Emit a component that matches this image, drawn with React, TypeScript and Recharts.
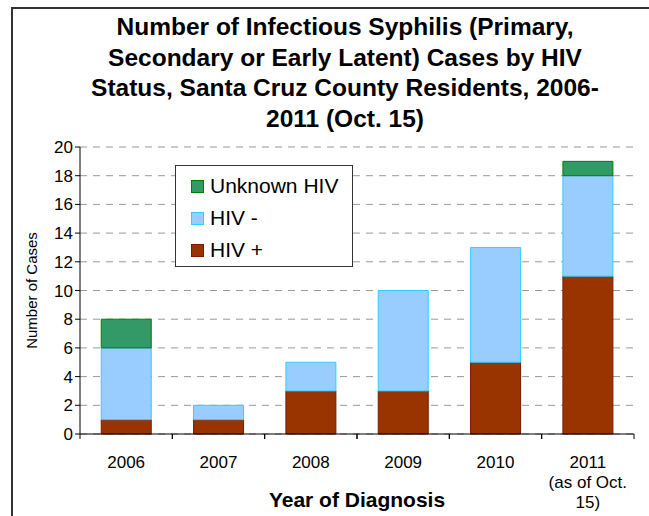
import { BarChart, Bar, XAxis, YAxis, CartesianGrid } from 'recharts';

const YEARS = ['2006', '2007', '2008', '2009', '2010', '2011'];
const HIV_POS = [1, 1, 3, 3, 5, 11];
const HIV_NEG = [5, 1, 2, 7, 8, 7];
const HIV_UNKNOWN = [2, 0, 0, 0, 0, 1];
const Y_TICKS = [0, 2, 4, 6, 8, 10, 12, 14, 16, 18, 20];
const YEAR_LABELS: Record<string, string[]> = {
  '2011': ['2011', '(as of Oct.', '15)'],
};
const TITLE_LINES = [
  'Number of Infectious Syphilis (Primary,',
  'Secondary or Early Latent) Cases by HIV',
  'Status, Santa Cruz County Residents, 2006-',
  '2011 (Oct. 15)',
];

const SERIES = [
  { key: 'pos', name: 'HIV +', fill: '#993300', stroke: '#7a1a00' },
  { key: 'neg', name: 'HIV -', fill: '#99ccff', stroke: '#33ccff' },
  { key: 'unk', name: 'Unknown HIV', fill: '#339966', stroke: '#008000' },
];

const data = YEARS.map((year, i) => ({
  year,
  pos: HIV_POS[i],
  neg: HIV_NEG[i],
  unk: HIV_UNKNOWN[i],
}));

const FONT = '"Liberation Sans", Arial, sans-serif';
const W = 649;
const H = 516;
const MARGIN = { top: 147, right: 15, bottom: 0, left: 20 };
const Y_AXIS_W = 60;
const BAND = (W - MARGIN.left - MARGIN.right - Y_AXIS_W) / YEARS.length;

const YearTick = (props: any) => {
  const { x, y, payload } = props;
  const lines = YEAR_LABELS[payload.value] || [payload.value];
  return (
    <g>
      <line x1={x - BAND / 2} x2={x - BAND / 2} y1={434} y2={439} stroke="#000" />
      <line x1={x + BAND / 2} x2={x + BAND / 2} y1={434} y2={439} stroke="#000" />
      <text x={x} y={468} textAnchor="middle" fontSize={17} fontFamily={FONT} fill="#000">
        {lines.map((l: string, i: number) => (
          <tspan key={i} x={x} dy={i === 0 ? 0 : 20}>{l}</tspan>
        ))}
      </text>
    </g>
  );
};

function LegendBox() {
  const items = [...SERIES].reverse();
  return (
    <div
      style={{
        position: 'absolute',
        left: 175,
        top: 165,
        width: 178,
        height: 102,
        border: '1px solid #333',
        background: '#fff',
        boxSizing: 'border-box',
        paddingTop: 4,
        paddingLeft: 15,
        fontFamily: FONT,
      }}
    >
      {items.map((it) => (
        <div key={it.key} style={{ display: 'flex', alignItems: 'center', height: 32 }}>
          <span
            style={{
              width: 13,
              height: 13,
              background: it.fill,
              border: `1px solid ${it.stroke}`,
              marginRight: 6,
              boxSizing: 'border-box',
            }}
          />
          <span style={{ fontSize: 21, color: '#000' }}>{it.name}</span>
        </div>
      ))}
    </div>
  );
}

export default function App() {
  return (
    <div style={{ position: 'absolute', left: 0, top: 0, width: W, height: H, background: '#fff', overflow: 'hidden' }}>
      <div
        style={{
          position: 'absolute',
          left: 11,
          top: 7,
          width: W,
          height: H,
          borderLeft: '2px solid #333',
          borderTop: '2px solid #333',
        }}
      />
      <div
        style={{
          position: 'absolute',
          left: 45,
          width: 600,
          top: 12,
          textAlign: 'center',
          fontFamily: FONT,
          fontWeight: 'bold',
          fontSize: 24.5,
          lineHeight: '30.5px',
          color: '#000',
        }}
      >
        {TITLE_LINES.map((l) => (
          <div key={l}>{l}</div>
        ))}
      </div>
      <BarChart
        width={W}
        height={H}
        data={data}
        margin={MARGIN}
        barCategoryGap="23%"
        style={{ position: 'absolute', left: 0, top: 0 }}
      >
        <CartesianGrid vertical={false} stroke="#999" strokeDasharray="7 6" />
        <XAxis
          dataKey="year"
          axisLine={{ stroke: '#000' }}
          tickLine={false}
          tick={<YearTick />}
          interval={0}
          height={82}
          label={{
            value: 'Year of Diagnosis',
            position: 'insideBottom',
            offset: 9,
            style: { fontFamily: FONT, fontWeight: 'bold', fontSize: 21, fill: '#000' },
          }}
        />
        <YAxis
          width={Y_AXIS_W}
          domain={[0, 20]}
          ticks={Y_TICKS}
          interval={0}
          axisLine={{ stroke: '#000' }}
          tickLine={{ stroke: '#000' }}
          tickSize={5}
          tick={{ fontFamily: FONT, fontSize: 17, fill: '#000' }}
          label={{
            value: 'Number of Cases',
            angle: -90,
            position: 'insideLeft',
            offset: 12,
            style: { fontFamily: FONT, fontSize: 15, fill: '#000', textAnchor: 'middle' },
          }}
        />
        {SERIES.map((s) => (
          <Bar
            key={s.key}
            dataKey={s.key}
            name={s.name}
            stackId="a"
            fill={s.fill}
            stroke={s.stroke}
            isAnimationActive={false}
          />
        ))}
      </BarChart>
      <LegendBox />
    </div>
  );
}
